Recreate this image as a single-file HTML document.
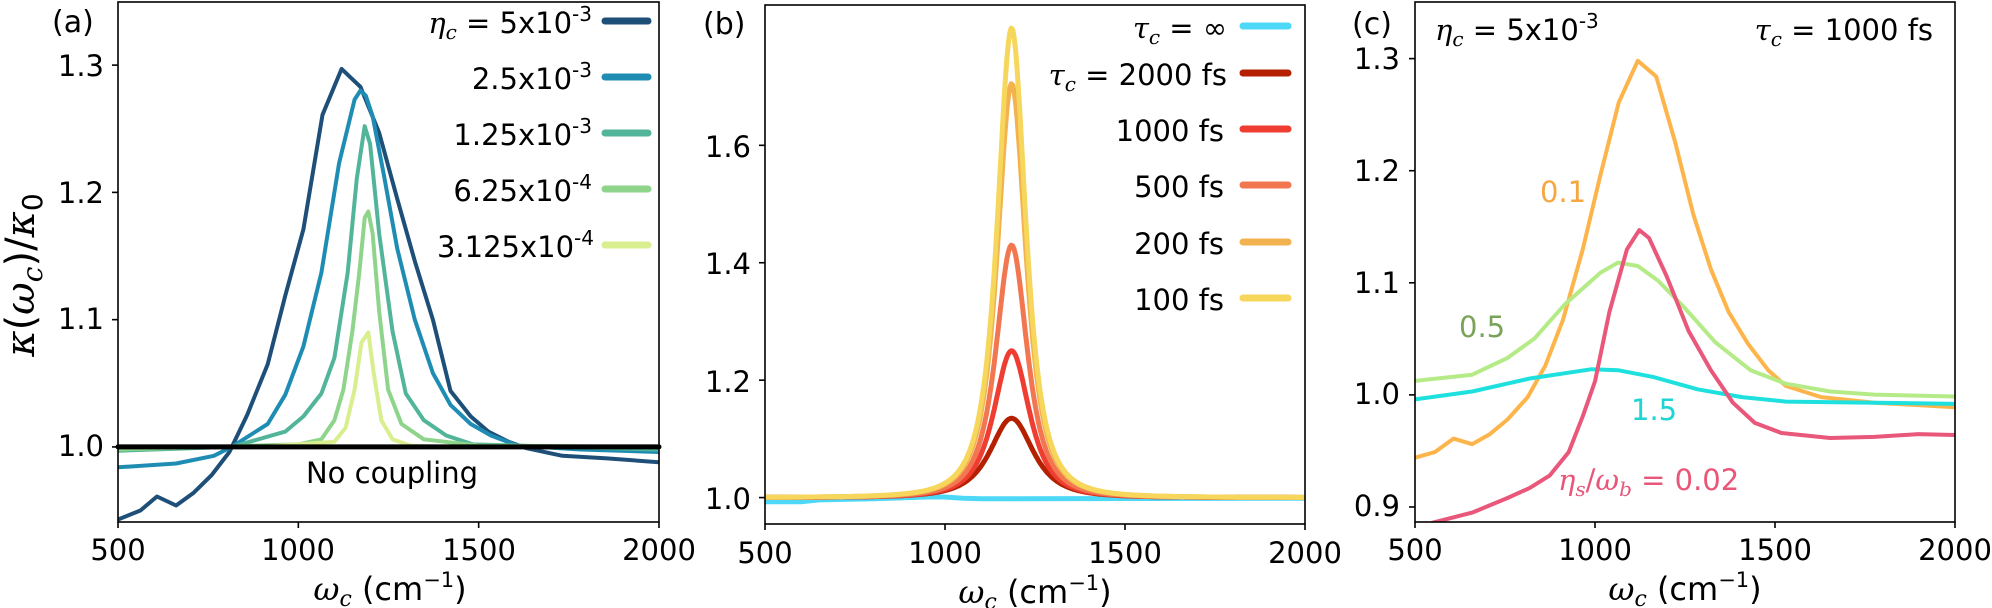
<!DOCTYPE html>
<html><head><meta charset="utf-8"><style>
html,body{margin:0;padding:0;background:#fff;}
svg{display:block;font-family:"DejaVu Sans","Liberation Sans",sans-serif;}
text{fill:#000;}
.t{font-size:29px;}
.m{font-family:"DejaVu Serif","Liberation Serif",serif;font-style:italic;}
</style></head><body>
<svg id="s" width="1992" height="608" viewBox="0 0 1992 608" xmlns="http://www.w3.org/2000/svg">
<g id="curves" fill="none" stroke-linejoin="round" stroke-linecap="round"></g>
<g id="axes" stroke="#000" stroke-width="1.6" fill="none"></g>
<g class="t">
<text x="52" y="32" font-size="30">(a)</text>
<text x="703" y="34" font-size="30">(b)</text>
<text x="1352" y="34" font-size="30">(c)</text>
<text x="118" y="560" text-anchor="middle">500</text>
<text x="298" y="560" text-anchor="middle">1000</text>
<text x="479" y="560" text-anchor="middle">1500</text>
<text x="659" y="560" text-anchor="middle">2000</text>
<text x="765" y="563" text-anchor="middle">500</text>
<text x="945" y="563" text-anchor="middle">1000</text>
<text x="1125" y="563" text-anchor="middle">1500</text>
<text x="1305" y="563" text-anchor="middle">2000</text>
<text x="1415" y="560" text-anchor="middle">500</text>
<text x="1595" y="560" text-anchor="middle">1000</text>
<text x="1775" y="560" text-anchor="middle">1500</text>
<text x="1955" y="560" text-anchor="middle">2000</text>
<g font-size="32">
<text x="390" y="600" text-anchor="middle"><tspan class="m">ω</tspan><tspan class="m" font-size="22" dy="6">c</tspan><tspan dy="-6"> (cm</tspan><tspan font-size="21" dy="-13">−1</tspan><tspan dy="13">)</tspan></text>
<text x="1035" y="603" text-anchor="middle"><tspan class="m">ω</tspan><tspan class="m" font-size="22" dy="6">c</tspan><tspan dy="-6"> (cm</tspan><tspan font-size="21" dy="-13">−1</tspan><tspan dy="13">)</tspan></text>
<text x="1685" y="600" text-anchor="middle"><tspan class="m">ω</tspan><tspan class="m" font-size="22" dy="6">c</tspan><tspan dy="-6"> (cm</tspan><tspan font-size="21" dy="-13">−1</tspan><tspan dy="13">)</tspan></text>
</g>
<text transform="translate(34,275) rotate(-90)" text-anchor="middle" font-size="40"><tspan class="m">κ</tspan>(<tspan class="m">ω</tspan><tspan class="m" font-size="28" dy="8">c</tspan><tspan dy="-8">)/</tspan><tspan class="m">κ</tspan><tspan font-size="28" dy="8">0</tspan></text>
<text x="104" y="456" text-anchor="end">1.0</text>
<text x="104" y="329" text-anchor="end">1.1</text>
<text x="104" y="203" text-anchor="end">1.2</text>
<text x="104" y="76" text-anchor="end">1.3</text>
<text x="751" y="509" text-anchor="end">1.0</text>
<text x="751" y="392" text-anchor="end">1.2</text>
<text x="751" y="274" text-anchor="end">1.4</text>
<text x="751" y="157" text-anchor="end">1.6</text>
<text x="1400" y="516" text-anchor="end">0.9</text>
<text x="1400" y="404" text-anchor="end">1.0</text>
<text x="1400" y="293" text-anchor="end">1.1</text>
<text x="1400" y="181" text-anchor="end">1.2</text>
<text x="1400" y="69" text-anchor="end">1.3</text>
<text x="392" y="483" text-anchor="middle">No coupling</text>
<text x="592" y="33" text-anchor="end"><tspan class="m">η</tspan><tspan class="m" font-size="20" dy="6">c</tspan><tspan dy="-6"> = 5x10</tspan><tspan font-size="20" dy="-12">-3</tspan></text>
<text x="592" y="89" text-anchor="end">2.5x10<tspan font-size="20" dy="-12">-3</tspan></text>
<text x="592" y="145" text-anchor="end">1.25x10<tspan font-size="20" dy="-12">-3</tspan></text>
<text x="592" y="201" text-anchor="end">6.25x10<tspan font-size="20" dy="-12">-4</tspan></text>
<text x="594" y="257" text-anchor="end">3.125x10<tspan font-size="20" dy="-12">-4</tspan></text>
<text x="1227" y="38" text-anchor="end"><tspan class="m">τ</tspan><tspan class="m" font-size="20" dy="6">c</tspan><tspan dy="-6"> = ∞</tspan></text>
<text x="1227" y="85" text-anchor="end"><tspan class="m">τ</tspan><tspan class="m" font-size="20" dy="6">c</tspan><tspan dy="-6"> = 2000 fs</tspan></text>
<text x="1224" y="141" text-anchor="end">1000 fs</text>
<text x="1224" y="197" text-anchor="end">500 fs</text>
<text x="1224" y="254" text-anchor="end">200 fs</text>
<text x="1224" y="310" text-anchor="end">100 fs</text>
<text x="1435" y="40"><tspan class="m">η</tspan><tspan class="m" font-size="20" dy="6">c</tspan><tspan dy="-6"> = 5x10</tspan><tspan font-size="20" dy="-12">-3</tspan></text>
<text x="1933" y="40" text-anchor="end"><tspan class="m">τ</tspan><tspan class="m" font-size="20" dy="6">c</tspan><tspan dy="-6"> = 1000 fs</tspan></text>
<text x="1540" y="202" style="fill:#f5a742">0.1</text>
<text x="1459" y="337" style="fill:#7aa35a">0.5</text>
<text x="1631" y="420" style="fill:#1dd5d5">1.5</text>
<text x="1558" y="490" style="fill:#e8567a"><tspan class="m" style="fill:#e8567a">η</tspan><tspan class="m" font-size="20" dy="6" style="fill:#e8567a">s</tspan><tspan dy="-6" style="fill:#e8567a">/</tspan><tspan class="m" style="fill:#e8567a">ω</tspan><tspan class="m" font-size="20" dy="6" style="fill:#e8567a">b</tspan><tspan dy="-6" style="fill:#e8567a"> = 0.02</tspan></text>
</g>
</svg>
<script>
(function(){
var NS="http://www.w3.org/2000/svg";
var C=document.getElementById('curves'),A=document.getElementById('axes');
function el(p,tag,at){var e=document.createElementNS(NS,tag);for(var k in at)e.setAttribute(k,at[k]);p.appendChild(e);return e;}
var P={a:{l:118,r:659,t:2,b:522,y0:0.941,y1:1.3496},
b:{l:765,r:1305,t:5,b:524,y0:0.955,y1:1.839},
c:{l:1415,r:1955,t:2,b:522,y0:0.8866,y1:1.3505}};
function X(p,x){return p.l+(x-500)/1500*(p.r-p.l);}
function Y(p,y){return p.b-(y-p.y0)/(p.y1-p.y0)*(p.b-p.t);}
function line(p,pts,col,w){var d=pts.map(function(q,i){return (i?'L':'M')+X(p,q[0]).toFixed(1)+' '+Y(p,q[1]).toFixed(1);}).join(' ');
 var s=el(C,'path',{d:d,stroke:col,'stroke-width':w});
 s.setAttribute('clip-path','url(#clip'+p.id+')');}
var defs=el(document.getElementById('s'),'defs',{});
['a','b','c'].forEach(function(k){P[k].id=k;var p=P[k];var cp=el(defs,'clipPath',{id:'clip'+k});el(cp,'rect',{x:p.l,y:p.t,width:p.r-p.l,height:p.b-p.t});});
var a=P.a;
line(a,[[500,0.943],[562,0.950],[608,0.961],[661,0.954],[710,0.964],[760,0.978],[809,0.996],[858,1.025],[915,1.065],[964,1.119],[1014,1.171],[1067,1.261],[1120,1.297],[1172,1.283],[1224,1.247],[1274,1.195],[1323,1.146],[1373,1.100],[1422,1.044],[1478,1.024],[1527,1.012],[1583,1.004],[1633,0.999],[1732,0.993],[1856,0.991],[2000,0.988]],'#1e4f78',4);
line(a,[[500,0.984],[661,0.987],[766,0.993],[815,1.0],[915,1.018],[964,1.041],[1014,1.079],[1064,1.137],[1113,1.223],[1156,1.273],[1172,1.280],[1187,1.276],[1206,1.260],[1237,1.214],[1274,1.156],[1323,1.100],[1373,1.058],[1422,1.033],[1478,1.018],[1534,1.009],[1608,1.001],[1782,0.998],[2000,0.996]],'#1f8db3',4);
line(a,[[500,0.997],[815,1.0],[964,1.012],[1014,1.024],[1064,1.042],[1100,1.070],[1137,1.137],[1162,1.211],[1184,1.252],[1199,1.238],[1224,1.168],[1261,1.091],[1298,1.042],[1348,1.021],[1410,1.009],[1484,1.002],[2000,0.998]],'#52b599',4);
line(a,[[500,0.998],[1000,1.002],[1064,1.006],[1100,1.021],[1125,1.045],[1150,1.091],[1169,1.137],[1184,1.180],[1194,1.185],[1206,1.168],[1224,1.107],[1249,1.045],[1286,1.018],[1348,1.006],[1500,1.001],[2000,1.0]],'#8fd48b',4);
line(a,[[900,1.0],[1100,1.004],[1131,1.015],[1156,1.045],[1175,1.082],[1194,1.090],[1209,1.058],[1230,1.021],[1261,1.006],[1311,1.001],[1400,1.0]],'#d9ee8e',4);
el(C,'line',{x1:a.l,x2:a.r,y1:Y(a,1.0),y2:Y(a,1.0),stroke:'#000','stroke-width':5});
var la=[[21,'#1e4f78'],[77,'#1f8db3'],[133,'#52b599'],[189,'#8fd48b'],[245,'#d9ee8e']];
la.forEach(function(q){el(C,'line',{x1:605,x2:648,y1:q[0],y2:q[0],stroke:q[1],'stroke-width':7});});
var b=P.b;
function lor(A,g,x0){var pts=[];for(var x=500;x<=2000;x+=4){var v=A/Math.pow(1+Math.pow((x-x0)/g,2),1.5);pts.push([x,1+v]);}return pts;}
line(b,[[500,0.993],[600,0.993],[650,0.996],[800,0.998],[950,1.001],[1000,1.001],[1050,0.999],[1100,0.998],[2000,0.999]],'#4dd8f8',5);
var bs=[[0.135,92,'#b52000'],[0.25,76,'#ef3d32'],[0.43,67,'#f27751'],[0.705,62,'#f2b24f'],[0.80,61,'#f6d65b']];
bs.forEach(function(q){line(b,lor(q[0],q[1],1185),q[2],5);});
var lb=[[26,'#4dd8f8'],[73,'#b52000'],[129,'#ef3d32'],[185,'#f27751'],[242,'#f2b24f'],[298,'#f6d65b']];
lb.forEach(function(q){el(C,'line',{x1:1243,x2:1288,y1:q[0],y2:q[0],stroke:q[1],'stroke-width':7});});
var c=P.c;
line(c,[[500,0.944],[555,0.949],[607,0.961],[659,0.956],[708,0.965],[757,0.978],[813,0.998],[862,1.026],[911,1.067],[966,1.130],[1015,1.196],[1066,1.261],[1119,1.298],[1170,1.284],[1223,1.225],[1273,1.161],[1322,1.112],[1371,1.074],[1426,1.045],[1481,1.022],[1530,1.008],[1628,0.998],[1776,0.993],[2000,0.989]],'#fdb54b',4);
line(c,[[500,1.0125],[659,1.018],[757,1.033],[831,1.050],[917,1.081],[1015,1.109],[1064,1.118],[1119,1.115],[1175,1.102],[1248,1.078],[1334,1.047],[1432,1.022],[1530,1.010],[1653,1.003],[1776,1.0003],[2000,0.9986]],'#b5eb87',4);
line(c,[[500,0.996],[659,1.003],[819,1.0146],[991,1.0229],[1064,1.022],[1162,1.016],[1285,1.005],[1408,0.998],[1530,0.994],[1776,0.993],[2000,0.992]],'#1ee0de',4);
line(c,[[549,0.886],[659,0.895],[757,0.908],[819,0.917],[874,0.928],[927,0.949],[966,0.981],[1000,1.012],[1040,1.074],[1089,1.130],[1123,1.147],[1150,1.140],[1199,1.106],[1260,1.057],[1322,1.022],[1383,0.993],[1444,0.975],[1518,0.966],[1653,0.9615],[1776,0.9625],[1898,0.965],[2000,0.9642]],'#e9577b',4);
function axes(p,yt){el(A,'rect',{x:p.l,y:p.t,width:p.r-p.l,height:p.b-p.t});
 [500,1000,1500,2000].forEach(function(x){var xx=X(p,x);el(A,'line',{x1:xx,x2:xx,y1:p.b,y2:p.b+6});});
 yt.forEach(function(y){var yy=Y(p,y);el(A,'line',{x1:p.l-6,x2:p.l,y1:yy,y2:yy});});}
axes(a,[1.0,1.1,1.2,1.3]);axes(b,[1.0,1.2,1.4,1.6]);axes(c,[0.9,1.0,1.1,1.2,1.3]);
})();
</script>
</body></html>
